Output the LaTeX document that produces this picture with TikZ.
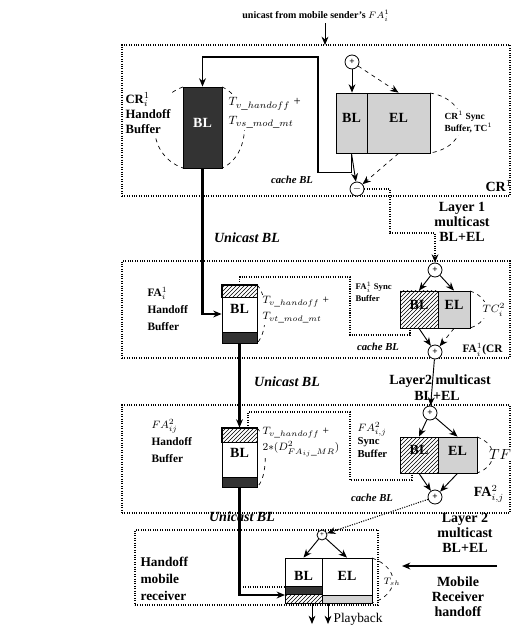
\documentclass[tikz,border=0pt]{standalone}
\usepackage{fontspec}
\setmainfont{Liberation Serif}
\usetikzlibrary{arrows.meta,patterns,fit}

\begin{document}
\begin{tikzpicture}[x=0.75pt,y=-0.75pt]
\tikzset{
  boxframe/.style={draw=black,densely dotted,line width=0.8pt,inner sep=0pt},
  buf/.style={draw=black,line width=0.6pt,inner sep=0pt,font=\fontsize{10.5}{12}\selectfont\bfseries},
  sumnode/.style={circle,draw=black,fill=white,line width=0.6pt,minimum size=10.5pt,inner sep=0pt,font=\fontsize{7}{8}\selectfont\bfseries},
  srctxt/.style={inner sep=1pt,font=\fontsize{7.5}{9}\selectfont\bfseries},
  lbl1/.style={fill=white,inner sep=1pt,font=\fontsize{9.5}{11.5}\selectfont\bfseries,align=left},
  lbl2/.style={inner sep=1pt,font=\fontsize{8.5}{13}\selectfont\bfseries,align=left},
  mlbl1/.style={fill=white,inner sep=1pt,font=\fontsize{9.5}{14}\selectfont,align=left},
  mlbl2/.style={fill=white,inner sep=1pt,font=\fontsize{8.5}{12}\selectfont,align=left},
  synclbl/.style={fill=white,inner sep=1pt,font=\fontsize{7}{9.5}\selectfont\bfseries,align=left},
  bigtxt/.style={inner sep=1pt,font=\fontsize{10.5}{11.25}\selectfont\bfseries,align=center},
  ital/.style={inner sep=1pt,font=\fontsize{8}{9}\selectfont\bfseries\itshape},
  unicast/.style={inner sep=1pt,font=\fontsize{10.5}{12}\selectfont\bfseries\itshape},
  arrowhd/.style={-{Stealth[length=2.2mm,width=1.8mm]}},
  thinln/.style={line width=0.7pt},
  thickln/.style={line width=2pt},
  loopln/.style={line width=1.2pt},
  cacheln/.style={densely dotted,line width=0.8pt},
  multiln/.style={densely dotted,line width=0.8pt},
  dashbr/.style={dashed,line width=0.5pt},
  hatch/.style={pattern=north east lines}
}
\useasboundingbox (0,0) rectangle (512,630);

\node[boxframe,fit={(122,45) (510,196)}] (n_boxCR) {};
\node[srctxt] (n_src) at (316,16) {unicast from mobile sender's $FA_i^1$};
\coordinate (c_crTop) at (325,45);
\draw[thinln,arrowhd] (n_src.south -| c_crTop) -- (c_crTop);
\draw[dashbr] (183,87) .. controls (145,100) and (145,155) .. (183,168);
\draw[dashbr] (222,87) .. controls (252,100) and (252,155) .. (222,168);
\draw[dashbr] (430,93) .. controls (472,100) and (472,146) .. (430,153);
\node[buf,fill=black!80,text=white,fit={(183,87) (222,168)}] (n_crHB) {BL};
\node[buf,fill=gray!35,fit={(336,93) (367,153)}] (n_crSB) {BL};
\node[buf,fill=gray!35,fit={(367,93) (430,153)}] (n_crSE) {EL};
\node[sumnode] (n_crIn) at (352,62) {+};
\node[sumnode] (n_crOut) at (357,189) {$-$};
\node[lbl1,anchor=west] (n_crHBl) at (124,113) {CR$_i^1$\\Handoff\\Buffer};
\node[mlbl1,anchor=west] (n_crT) at (227,113) {$T_{v\_handoff}$ +\\$T_{vs\_mod\_mt}$};
\node[synclbl,anchor=west] (n_crSl) at (443,122) {CR$^1$ Sync\\Buffer, TC$^1$};
\draw[loopln,arrowhd] (n_crSB.south) -- ++(0,19) -| (318,57) -| (n_crHB.north);
\draw[thinln,arrowhd] (n_crIn) -- (n_crIn |- n_crSB.north);
\draw[dashbr,arrowhd] (n_crIn) -- (n_crSE.north);
\draw[thinln,arrowhd] (n_crSB.south) -- (n_crOut);
\draw[dashbr,arrowhd] (n_crSE.south) -- (n_crOut);
\node[ital] (n_crCache) at (292,180) {cache BL};
\node[bigtxt,anchor=west] (n_crLbl) at (484,186) {CR$^1$};

\node[bigtxt] (n_L1) at (462,222) {Layer 1\\multicast\\BL+EL};
\node[unicast] (n_ub1) at (247,238) {Unicast BL};

\node[boxframe,fit={(122,261) (510,358)}] (n_boxFA1) {};
\draw[dashbr] (257,285) .. controls (268,295) and (268,333) .. (257,343);
\draw[dashbr] (470,291) .. controls (492,298) and (492,321) .. (470,328);
\node[buf,fit={(222,285) (257,343)}] (n_faHB) {BL};
\draw[hatch] (n_faHB.north west) rectangle (257,297);
\draw[fill=black!80] (222,332) rectangle (n_faHB.south east);
\draw[thickln,arrowhd] (n_crHB.south) |- (n_faHB.west);
\node[lbl2,anchor=west] (n_faHBl) at (146,309) {FA$_i^1$\\Handoff\\Buffer};
\node[mlbl2,anchor=west] (n_faT) at (261,310) {$T_{v\_handoff}$ +\\$T_{vt\_mod\_mt}$};
\draw[cacheln] (n_faHB.north) |- (350,277) |- (410,335) -- (410,328);
\node[synclbl,fill=none,font=\fontsize{6.5}{9}\selectfont\bfseries,anchor=west] (n_faSl) at (354,292) {FA$_i^1$ Sync\\Buffer};
\node[ital] (n_faCache) at (378,347) {cache BL};
\node[buf,hatch,fit={(400,291) (438,328)}] (n_faSB) {BL};
\node[buf,fill=gray!35,fit={(438,291) (470,328)}] (n_faSE) {EL};
\node[sumnode] (n_faIn) at (435,270) {+};
\node[sumnode] (n_faOut) at (435,352) {+};
\draw[multiln,arrowhd] (n_crOut.east) -| (390,233) -| (n_faIn.north);
\draw[thinln,arrowhd] (n_faIn) -- (n_faSB.north);
\draw[thinln,arrowhd] (n_faIn) -- (n_faSE.north);
\draw[thinln,arrowhd] (n_faSB.south) -- (n_faOut);
\draw[dashbr,arrowhd] (n_faSE.south) -- (n_faOut);
\node[mlbl2] (n_faTC) at (494,310) {$TC_i^2$};
\node[lbl2,anchor=west] (n_faLbl) at (461,350) {FA$_i^1$(CR};

\node[unicast] (n_ub2) at (287,382) {Unicast BL};
\node[bigtxt] (n_L2a) at (440,381) {Layer2 multicast};
\node[bigtxt] (n_L2b) at (437,396) {BL+EL};

\node[boxframe,fit={(122,405) (510,513)}] (n_boxFA2) {};
\draw[dashbr] (257,428) .. controls (268,438) and (268,478) .. (257,487);
\draw[dashbr] (477,437) .. controls (498,444) and (498,466) .. (477,473);
\node[buf,fit={(222,428) (257,487)}] (n_f2HB) {BL};
\draw[hatch] (n_f2HB.north west) rectangle (257,442);
\draw[fill=black!80] (222,477) rectangle (n_f2HB.south east);
\draw[thickln,arrowhd] (n_faHB.south) -- (n_f2HB.north);
\node[lbl2,anchor=west] (n_f2HBl) at (150,441) {$FA_{ij}^2$\\Handoff\\Buffer};
\node[mlbl2,anchor=west] (n_f2T) at (261,442) {$T_{v\_handoff}$ +\\$2{*}(D^2_{FA_{ij}\_MR})$};
\coordinate (c_f2Cache) at (248,428);
\coordinate (c_f2Back) at (412,473);
\draw[cacheln] (c_f2Cache) |- (350,412) |- (412,480) -- (c_f2Back);
\node[lbl2,font=\fontsize{8}{10}\selectfont\bfseries,anchor=west] (n_f2Sl) at (356,440) {$FA_{i,j}^2$\\Sync\\Buffer};
\node[ital] (n_f2Cache) at (372,498) {cache BL};
\node[buf,hatch,fit={(400,437) (438,473)}] (n_f2SB) {BL};
\node[buf,fill=gray!35,fit={(438,437) (477,473)}] (n_f2SE) {EL};
\node[sumnode] (n_f2In) at (430,413) {+};
\node[sumnode] (n_f2Out) at (435,497) {+};
\draw[thinln,arrowhd] (n_faOut) -- (n_f2In);
\draw[thinln,arrowhd] (n_f2In) -- (n_f2SB.north);
\draw[thinln,arrowhd] (n_f2In) -- (n_f2SE.north);
\draw[thinln,arrowhd] (n_f2SB.south) -- (n_f2Out);
\draw[thinln,arrowhd] (n_f2SE.south) -- (n_f2Out);
\node[mlbl2,font=\fontsize{11}{12}\selectfont] (n_f2TF) at (500,455) {$TF$};
\node[bigtxt] (n_f2Lbl) at (489,494) {FA$_{i,j}^2$};

\node[unicast] (n_ub3) at (242,517) {Unicast BL};
\node[bigtxt] (n_L3) at (465,533) {Layer 2\\multicast\\BL+EL};

\node[boxframe,fit={(135,530) (378,605)}] (n_boxRX) {};
\draw[dashbr] (372,558) .. controls (400,568) and (400,594) .. (372,603);
\node[lbl2,font=\fontsize{10}{13}\selectfont\bfseries,anchor=west] (n_rxLbl) at (139,579) {Handoff\\mobile\\receiver};
\node[sumnode,minimum size=7.5pt,font=\fontsize{5}{6}\selectfont\bfseries] (n_rxIn) at (322,535) {+};
\node[buf,fit={(285,558) (322,603)}] (n_rxBL) {BL};
\node[buf,fit={(322,558) (372,603)}] (n_rxEL) {EL};
\draw[fill=black!80] (285,586) rectangle (322,594);
\draw[hatch] (285,594) rectangle (n_rxBL.south east);
\draw[fill=gray!35] (322,595) rectangle (n_rxEL.south east);
\draw[multiln,arrowhd] (n_f2Out) -- (n_rxIn);
\draw[thinln,arrowhd] (n_rxIn) -- (n_rxBL.north);
\draw[thinln,arrowhd] (n_rxIn) -- (n_rxEL.north);
\coordinate (c_rxUni) at (285,595);
\coordinate (c_rxDotA) at (243,587);
\coordinate (c_rxDotB) at (285,587);
\draw[thickln,arrowhd] (n_f2HB.south) |- (c_rxUni);
\draw[cacheln] (c_rxDotA) -- (c_rxDotB);
\node[mlbl2,font=\fontsize{7.5}{9}\selectfont] (n_rxT) at (392,582) {$T_{sh}$};
\node[bigtxt] (n_mrh) at (458,597) {Mobile\\Receiver\\handoff};
\coordinate (c_mrhA) at (497,566);
\coordinate (c_mrhB) at (402,566);
\draw[loopln,arrowhd] (c_mrhA) -- (c_mrhB);
\coordinate (c_pbA) at (312,624);
\coordinate (c_pbB) at (328,624);
\draw[thinln,arrowhd] (c_pbA |- n_rxBL.south) -- (c_pbA);
\draw[thinln,arrowhd] (c_pbB |- n_rxBL.south) -- (c_pbB);
\node[bigtxt,font=\fontsize{10}{12}\selectfont,anchor=west] (n_pb) at (332,619) {Playback};
\end{tikzpicture}
\end{document}
